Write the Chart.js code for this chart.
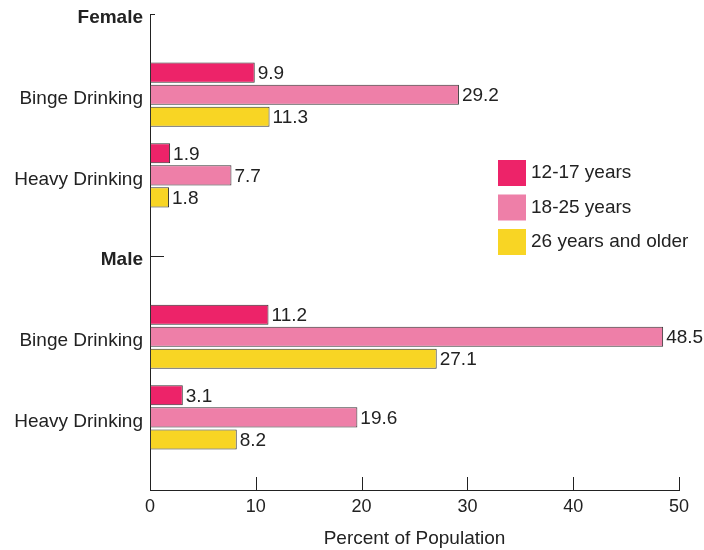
<!DOCTYPE html>
<html>
<head>
<meta charset="utf-8">
<script src="https://cdn.jsdelivr.net/npm/chart.js@4.4.1/dist/chart.umd.min.js"></script>
<style>
  html, body { margin: 0; padding: 0; background: #fff; }
  canvas { display: block; }
</style>
</head>
<body>
<canvas id="barChart" width="704" height="550"></canvas>
<script>
// rows on the vertical axis (Female / Male are group headings without bars)
const tickLabels = ['Female', 'Binge Drinking', 'Heavy Drinking', 'Male', 'Binge Drinking', 'Heavy Drinking'];
const headingRows = [0, 3];
const barRows = [1, 2, 4, 5]; // F binge, F heavy, M binge, M heavy

const ageGroups = ['12-17 years', '18-25 years', '26 years and older'];
const age12to17 = [9.9, 1.9, 11.2, 3.1];
const age18to25 = [29.2, 7.7, 48.5, 19.6];
const age26plus = [11.3, 1.8, 27.1, 8.2];

const xTicks = [0, 10, 20, 30, 40, 50];

const colors = ['#ed2369', '#ee7fa8', '#f8d524'];
const textColor = '#222';
const fontFamily = '"Liberation Sans", Arial, Helvetica, sans-serif';

const ctx = document.getElementById('barChart').getContext('2d');

function rowsOf(values) {
  return values.map((v, i) => ({ x: v, y: barRows[i] }));
}

const data = {
  datasets: [age12to17, age18to25, age26plus].map((vals, i) => ({
    label: ageGroups[i],
    data: rowsOf(vals),
    backgroundColor: colors[i],
    borderColor: '#333',
    borderWidth: 1,
    borderSkipped: false,
    categoryPercentage: 0.82,
    barPercentage: 0.91
  }))
};

// value labels at the end of each bar
const valueLabels = {
  id: 'valueLabels',
  afterDatasetsDraw(chart) {
    const c = chart.ctx;
    c.save();
    c.font = '19px ' + fontFamily;
    c.fillStyle = textColor;
    c.textAlign = 'left';
    c.textBaseline = 'middle';
    chart.data.datasets.forEach((ds, di) => {
      chart.getDatasetMeta(di).data.forEach((el, i) => {
        c.fillText(ds.data[i].x.toFixed(1), el.x + 3, el.y + 1);
      });
    });
    c.restore();
  }
};

// inward tick marks on both axes
const innerTicks = {
  id: 'innerTicks',
  afterDraw(chart) {
    const c = chart.ctx;
    const xs = chart.scales.x, ys = chart.scales.y;
    const area = chart.chartArea;
    c.save();
    c.strokeStyle = textColor;
    c.lineWidth = 1;
    c.beginPath();
    xTicks.forEach(v => {
      const px = Math.round(xs.getPixelForValue(v)) + 0.5;
      c.moveTo(px, area.bottom);
      c.lineTo(px, area.bottom - 13);
    });
    const lens = [5, 14];
    headingRows.forEach((r, i) => {
      const py = Math.round(ys.getPixelForValue(r)) + 0.5;
      c.moveTo(area.left, py);
      c.lineTo(area.left + lens[i], py);
    });
    c.stroke();
    c.restore();
  }
};

// legend drawn inside the plot
const boxLegend = {
  id: 'boxLegend',
  afterDraw(chart) {
    const c = chart.ctx;
    const left = 498, top = 160, step = 34.5;
    c.save();
    c.font = '19px ' + fontFamily;
    c.textAlign = 'left';
    c.textBaseline = 'middle';
    chart.data.datasets.forEach((ds, i) => {
      const y = top + i * step;
      c.fillStyle = ds.backgroundColor;
      c.fillRect(left, y, 28, 26);
      c.fillStyle = textColor;
      c.fillText(ds.label, left + 33, y + 13);
    });
    c.restore();
  }
};

const options = {
  indexAxis: 'y',
  responsive: false,
  devicePixelRatio: 1,
  animation: false,
  layout: { padding: { top: 14, right: 25, left: 0, bottom: 0 } },
  plugins: {
    legend: { display: false },
    tooltip: { enabled: false }
  },
  scales: {
    x: {
      type: 'linear',
      min: 0,
      max: 50,
      afterBuildTicks: s => { s.ticks = xTicks.map(v => ({ value: v })); },
      afterFit: s => { s.height = 60; s.paddingLeft = 0; s.paddingRight = 0; },
      grid: { display: false, drawTicks: false },
      border: { display: true, color: textColor, width: 1 },
      ticks: { color: textColor, padding: 6, font: { family: fontFamily, size: 18 } },
      title: {
        display: true,
        text: 'Percent of Population',
        color: textColor,
        padding: { top: 0, bottom: 0 },
        font: { family: fontFamily, size: 19 }
      }
    },
    y: {
      type: 'linear',
      reverse: true,
      offset: false,
      min: 0,
      max: 5.9,
      afterBuildTicks: s => { s.ticks = tickLabels.map((_, i) => ({ value: i })); },
      afterFit: s => { s.width = 150; s.paddingTop = 0; s.paddingBottom = 0; },
      grid: { display: false, drawTicks: false, offset: false },
      border: { display: true, color: textColor, width: 1 },
      ticks: {
        color: textColor,
        padding: 7,
        labelOffset: 4,
        callback: (v, i) => tickLabels[i],
        font: c => headingRows.includes(c.index)
          ? { family: fontFamily, size: 19, weight: 'bold' }
          : { family: fontFamily, size: 19 }
      }
    }
  }
};

const barChart = new Chart(ctx, {
  type: 'bar',
  data: data,
  options: options,
  plugins: [valueLabels, innerTicks, boxLegend]
});
</script>
</body>
</html>
